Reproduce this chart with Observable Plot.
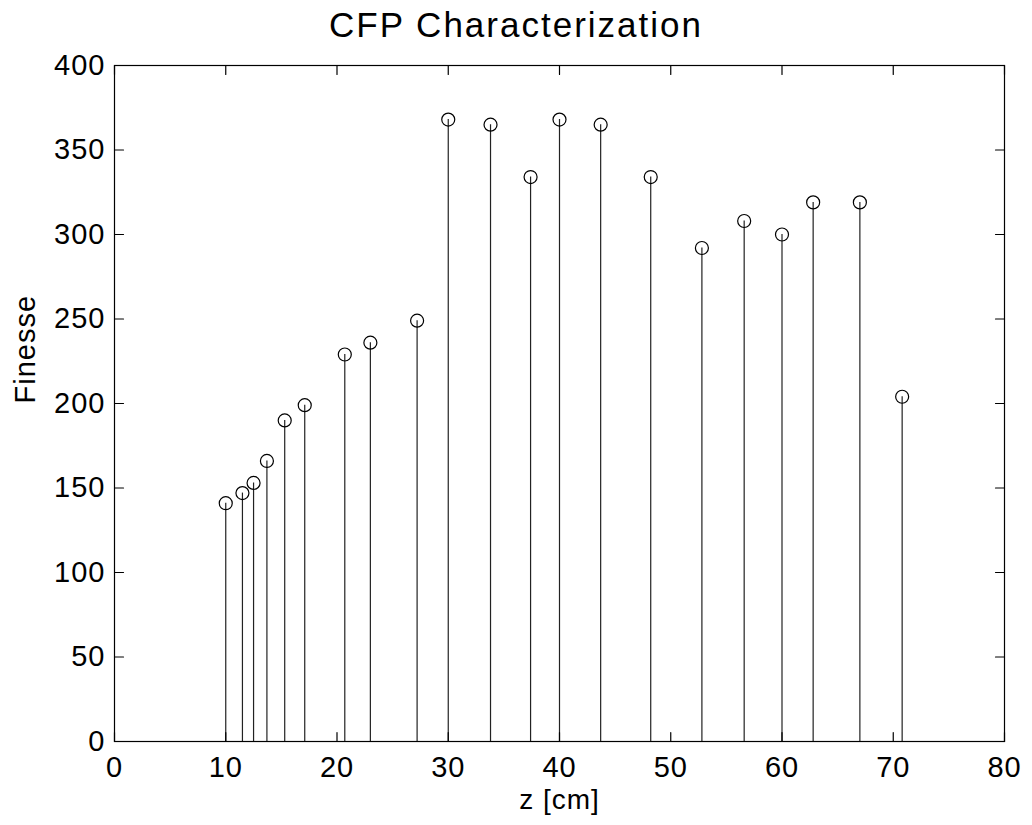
<!DOCTYPE html>
<html>
<head>
<meta charset="utf-8">
<script src="https://cdn.jsdelivr.net/npm/d3@7"></script>
<script src="https://cdn.jsdelivr.net/npm/@observablehq/plot@0.6"></script>
<style>
  html, body { margin: 0; padding: 0; background: #fff; }
  #title { width: 1032px; height: 50px; line-height: 50px; text-align: center;
           font-family: "Liberation Sans", Arial, sans-serif; font-size: 35px; letter-spacing: 2px; color: #000; }
</style>
</head>
<body>
<div id="title">CFP Characterization</div>
<div id="chart"></div>
<script>
const zValues = [10.0, 11.5, 12.5, 13.7, 15.3, 17.1, 20.7, 23.0, 27.2, 30.0, 33.8, 37.4, 40.0, 43.7, 48.2, 52.8, 56.6, 60.0, 62.8, 67.0, 70.8];
const finesse = [141, 147, 153, 166, 190, 199, 229, 236, 249, 368, 365, 334, 368, 365, 334, 292, 308, 300, 319, 319, 204];
const xTicks = [0, 10, 20, 30, 40, 50, 60, 70, 80];
const yTicks = [0, 50, 100, 150, 200, 250, 300, 350, 400];
const xDomain = [0, 80];
const yDomain = [0, 400];

const data = zValues.map((z, i) => ({z, f: finesse[i]}));
const tickStyle = {length: 9, anchor: "start", r: 0, stroke: "#000", strokeWidth: 1.2};

const plot = Plot.plot({
  width: 1032,
  height: 775,
  marginTop: 15,
  marginRight: 28,
  marginBottom: 84,
  marginLeft: 114,
  style: "font-size: 29px; font-family: 'Liberation Sans', Arial, sans-serif; letter-spacing: 1px; background: #fff; color: #000; overflow: visible;",
  x: {domain: xDomain},
  y: {domain: yDomain},
  marks: [
    Plot.ruleX(data, {x: "z", y1: 0, y2: "f", stroke: "#222", strokeWidth: 1.2}),
    Plot.dot(data, {x: "z", y: "f", r: 6.5, stroke: "#000", strokeWidth: 1.2, fill: "none"}),
    Plot.frame({stroke: "#000", strokeWidth: 1.2}),
    // tick labels
    Plot.axisX(xTicks, {anchor: "bottom", tickSize: 0, tickPadding: 15, label: null}),
    Plot.axisY(yTicks, {anchor: "left", tickSize: 0, tickPadding: 9, label: null}),
    // inward ticks on all four sides
    Plot.vector(xTicks, {x: d => d, y: yDomain[0], rotate: 0, ...tickStyle}),
    Plot.vector(xTicks, {x: d => d, y: yDomain[1], rotate: 180, ...tickStyle}),
    Plot.vector(yTicks, {x: xDomain[0], y: d => d, rotate: 90, ...tickStyle}),
    Plot.vector(yTicks, {x: xDomain[1], y: d => d, rotate: -90, ...tickStyle}),
    // axis titles
    Plot.text(["Finesse"], {frameAnchor: "left", text: d => d, rotate: -90, dx: -89, fontSize: 29}),
    Plot.text(["z [cm]"], {frameAnchor: "bottom", text: d => d, dy: 67, fontSize: 28})
  ]
});
document.getElementById("chart").appendChild(plot);
</script>
</body>
</html>
